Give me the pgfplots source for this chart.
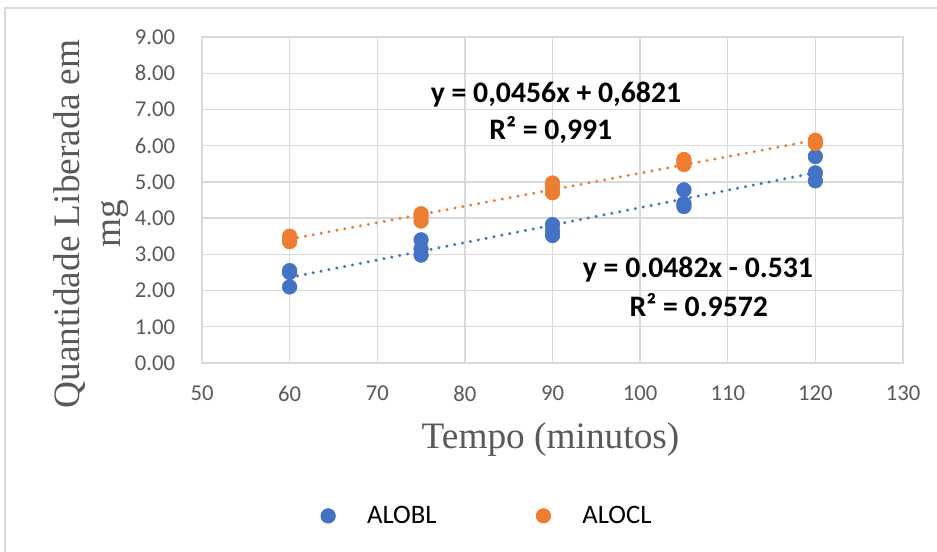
\documentclass[border=0pt]{standalone}
\usepackage{fontspec}
\setmainfont{Liberation Serif}
\newfontfamily\calibri{Carlito}
\usepackage{pgfplots}
\pgfplotsset{compat=1.18}
\definecolor{xlblue}{HTML}{4472C4}
\definecolor{xlorange}{HTML}{ED7D31}
\definecolor{gridgray}{HTML}{D9D9D9}
\definecolor{txtgray}{HTML}{595959}
\begin{document}
\begin{tikzpicture}
\useasboundingbox (0,0) rectangle (702.75pt,-414pt);
\draw[gridgray, line width=0.8pt] (3.75pt,-420pt) -- (3.75pt,-6pt) -- (710pt,-6pt);
\begin{axis}[
  at={(151.5pt,-272.25pt)}, anchor=south west,
  scale only axis, width=525.75pt, height=244.5pt,
  xmin=50, xmax=130, ymin=0, ymax=9,
  xtick={50,60,...,130}, ytick={0,1,...,9},
  grid=major, major grid style={gridgray, line width=1pt},
  axis line style={gridgray, line width=1pt},
  major tick length=0pt,
  /pgf/number format/assume math mode=true,
  ticklabel style={font=\calibri\fontsize{17}{20}\selectfont, text=txtgray},
  yticklabel style={/pgf/number format/fixed, /pgf/number format/precision=2, /pgf/number format/fixed zerofill, inner sep=0pt, xshift=-20pt},
  xticklabel style={inner sep=0pt, yshift=-17pt},
  legend style={at={(0.4066,-0.469)}, anchor=center, draw=none, fill=none,
    legend columns=2, font=\calibri\fontsize{20}{23}\selectfont,
    /tikz/every even column/.append style={column sep=72pt}},
  legend image code/.code={\draw[#1] plot coordinates {(0pt,0pt)}; \path (-6pt,0pt) (27pt,0pt);},
  clip=false,
]
\addplot[xlorange, line width=2.5pt, dash pattern=on 0.01pt off 6pt, line cap=round, forget plot] coordinates {(60,3.4181) (120,6.1541)};
\addplot[xlblue, line width=2.5pt, dash pattern=on 0.01pt off 6pt, line cap=round, forget plot] coordinates {(60,2.361) (120,5.253)};
\addplot[only marks, mark=*, mark size=5.5pt, mark options={draw=xlblue, fill=xlblue}] coordinates {
 (60,2.55) (60,2.50) (60,2.10)
 (75,3.40) (75,3.15) (75,2.98)
 (90,3.82) (90,3.65) (90,3.52)
 (105,4.78) (105,4.40) (105,4.32)
 (120,5.70) (120,5.25) (120,5.03)};
\addlegendentry{ALOBL}
\addplot[only marks, mark=*, mark size=5.5pt, mark options={draw=xlorange, fill=xlorange}] coordinates {
 (60,3.50) (60,3.40) (60,3.35)
 (75,4.12) (75,4.05) (75,3.92)
 (90,4.97) (90,4.82) (90,4.70)
 (105,5.62) (105,5.55) (105,5.48)
 (120,6.15) (120,6.10) (120,6.06)};
\addlegendentry{ALOCL}
\node[font=\calibri\bfseries\fontsize{22.3}{26}\selectfont] at (axis cs:90.4,7.40) {y = 0,0456x + 0,6821};
\node[font=\calibri\bfseries\fontsize{22.3}{26}\selectfont] at (axis cs:89.8,6.43) {R² = 0,991};
\node[font=\calibri\bfseries\fontsize{22.3}{26}\selectfont] at (axis cs:106.6,2.58) {y = 0.0482x - 0.531};
\node[font=\calibri\bfseries\fontsize{22.3}{26}\selectfont] at (axis cs:106.7,1.60) {R² = 0.9572};
\end{axis}
\node[rotate=90, anchor=base, text=txtgray, font=\fontsize{28}{32}\selectfont] at (59.25pt,-168pt) {Quantidade Liberada em};
\node[rotate=90, anchor=base, text=txtgray, font=\fontsize{28}{32}\selectfont] at (90pt,-168pt) {mg};
\node[anchor=base, text=txtgray, font=\fontsize{28}{32}\selectfont] at (412.9pt,-336pt) {Tempo (minutos)};
\end{tikzpicture}
\end{document}
